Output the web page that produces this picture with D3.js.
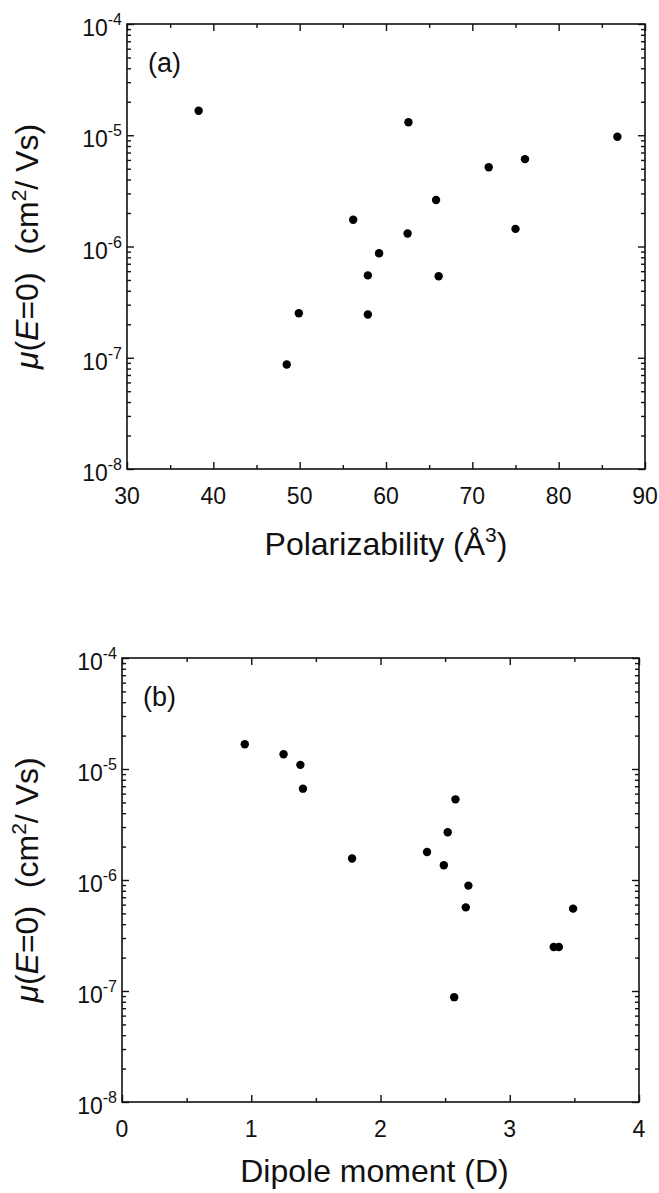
<!DOCTYPE html>
<html>
<head>
<meta charset="utf-8">
<script src="https://cdn.jsdelivr.net/npm/d3@7"></script>
<style>
  body { margin: 0; background: #fff; }
  svg { display: block; }
  text { font-family: "Liberation Sans", Arial, Helvetica, sans-serif; fill: #111; }
  .tick line, .domain { stroke: #111; stroke-width: 1.4; }
</style>
</head>
<body>
<svg id="chart"></svg>
<script>
// panel (a): polarizability vs zero-field mobility
var polarizability = [38.3, 48.5, 49.9, 56.2, 57.9, 57.9, 59.2, 62.6, 62.5, 65.8, 66.1, 71.9, 75.0, 76.1, 86.8];
var mobilityA = [1.66e-5, 8.7e-8, 2.51e-7, 1.74e-6, 5.5e-7, 2.45e-7, 8.7e-7, 1.31e-5, 1.31e-6, 2.62e-6, 5.4e-7, 5.15e-6, 1.44e-6, 6.1e-6, 9.7e-6];

// panel (b): dipole moment vs zero-field mobility
var dipole = [0.95, 1.25, 1.38, 1.40, 1.78, 2.36, 2.49, 2.52, 2.57, 2.58, 2.66, 2.68, 3.34, 3.38, 3.49];
var mobilityB = [1.67e-5, 1.36e-5, 1.09e-5, 6.65e-6, 1.56e-6, 1.79e-6, 1.36e-6, 2.69e-6, 8.8e-8, 5.33e-6, 5.67e-7, 8.9e-7, 2.49e-7, 2.49e-7, 5.52e-7];

var polarTicks = [30, 40, 50, 60, 70, 80, 90];
var polarMinor = [35, 45, 55, 65, 75, 85];
var dipoleTicks = [0, 1, 2, 3, 4];
var dipoleMinor = [0.5, 1.5, 2.5, 3.5];
var decadeExps = [-4, -5, -6, -7, -8];

var width = 659, height = 1193;

var svg = d3.select('#chart')
            .attr("width", width)
            .attr("height", height);

var panels = [
  { label: "(a)", xs: polarizability, ys: mobilityA, domain: [30, 90], ticks: polarTicks, minor: polarMinor,
    box: { left: 127, right: 645, top: 24, bottom: 469 }, title: "polar" },
  { label: "(b)", xs: dipole, ys: mobilityB, domain: [0, 4], ticks: dipoleTicks, minor: dipoleMinor,
    box: { left: 122, right: 639, top: 658, bottom: 1102 }, title: "dipole" }
];

// minor log ticks 2..9 in every decade
var minorY = [];
for (var e = -8; e < -4; e++) {
  for (var m = 2; m <= 9; m++) minorY.push(m * Math.pow(10, e));
}

panels.forEach(function(p) {
  var b = p.box;
  var x = d3.scaleLinear().domain(p.domain).range([b.left, b.right]);
  var y = d3.scaleLog().domain([1e-8, 1e-4]).range([b.bottom, b.top]);
  var decades = decadeExps.map(function(k) { return Math.pow(10, k); });

  var g = svg.append("g");

  /* ticks point inward on all four sides */
  function addAxis(axis, tx, ty) {
    var a = g.append("g").attr("transform", "translate(" + tx + "," + ty + ")").call(axis);
    a.select(".domain").remove();
    return a;
  }
  addAxis(d3.axisBottom(x).tickValues(p.ticks).tickSize(-7).tickFormat(""), 0, b.bottom);
  addAxis(d3.axisBottom(x).tickValues(p.minor).tickSize(-4).tickFormat(""), 0, b.bottom);
  addAxis(d3.axisTop(x).tickValues(p.ticks).tickSize(-7).tickFormat(""), 0, b.top);
  addAxis(d3.axisTop(x).tickValues(p.minor).tickSize(-4).tickFormat(""), 0, b.top);
  addAxis(d3.axisLeft(y).tickValues(decades).tickSize(-7).tickFormat(""), b.left, 0);
  addAxis(d3.axisLeft(y).tickValues(minorY).tickSize(-4).tickFormat(""), b.left, 0);
  addAxis(d3.axisRight(y).tickValues(decades).tickSize(-7).tickFormat(""), b.right, 0);
  addAxis(d3.axisRight(y).tickValues(minorY).tickSize(-4).tickFormat(""), b.right, 0);

  g.append("rect")
   .attr("x", b.left).attr("y", b.top)
   .attr("width", b.right - b.left).attr("height", b.bottom - b.top)
   .attr("fill", "none").attr("stroke", "#111").attr("stroke-width", 1.6);

  // x tick labels
  g.selectAll(".xlab").data(p.ticks).enter().append("text")
   .attr("class", "xlab")
   .attr("x", function(d) { return x(d); })
   .attr("y", b.bottom + 35)
   .attr("text-anchor", "middle")
   .attr("font-size", 23)
   .text(function(d) { return d; });

  // y tick labels 10^k
  var yl = g.selectAll(".ylab").data(decadeExps).enter().append("text")
   .attr("class", "ylab")
   .attr("x", b.left - 5)
   .attr("y", function(k) { return y(Math.pow(10, k)) + 12; })
   .attr("text-anchor", "end")
   .attr("font-size", 23);
  yl.append("tspan").text("10");
  yl.append("tspan").attr("font-size", 16).attr("dy", -11).text(function(k) { return "-" + (-k); });

  // points
  g.selectAll(".pt").data(p.xs).enter().append("circle")
   .attr("class", "pt")
   .attr("cx", function(d) { return x(d); })
   .attr("cy", function(d, i) { return y(p.ys[i]); })
   .attr("r", 4.2)
   .attr("fill", "#000");

  // panel label
  g.append("text")
   .attr("x", b.left + 21).attr("y", b.top + 48)
   .attr("font-size", 27)
   .text(p.label);

  // x title
  var xt = g.append("text")
   .attr("x", (b.left + b.right) / 2 + (p.title == "polar" ? 0 : -6))
   .attr("y", b.bottom + (p.title == "polar" ? 86 : 80))
   .attr("text-anchor", "middle")
   .attr("font-size", 32);
  if (p.title == "polar") {
    xt.append("tspan").text("Polarizability (Å");
    xt.append("tspan").attr("font-size", 21).attr("dy", -13).text("3");
    xt.append("tspan").attr("dy", 13).text(")");
  } else {
    xt.text("Dipole moment (D)");
  }

  // y title
  var yt = g.append("text")
   .attr("transform", "translate(38," + ((b.top + b.bottom) / 2) + ") rotate(-90)")
   .attr("text-anchor", "middle")
   .attr("font-size", 32);
  yt.append("tspan").attr("font-style", "italic").text("μ");
  yt.append("tspan").text("(");
  yt.append("tspan").attr("font-style", "italic").text("E");
  yt.append("tspan").text("=0)\u00a0\u00a0(cm");
  yt.append("tspan").attr("font-size", 21).attr("dy", -12).text("2");
  yt.append("tspan").attr("dy", 12).text("/ Vs)");
});
</script>
</body>
</html>
